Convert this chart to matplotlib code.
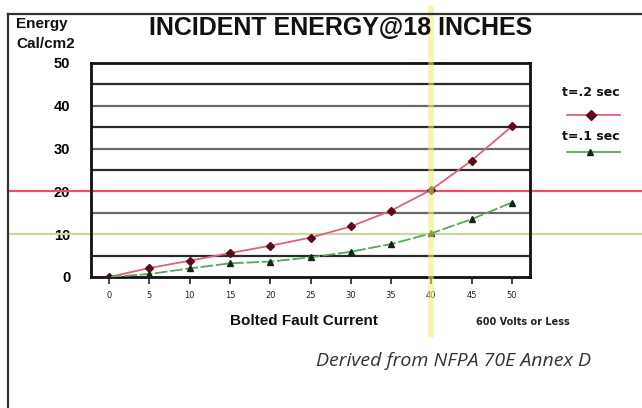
import matplotlib
matplotlib.use("Agg")
import matplotlib.pyplot as plt
from matplotlib.lines import Line2D

# data
current = [0, 5, 10, 15, 20, 25, 30, 35, 40, 45, 50]
energy_t02 = [0, 2.1, 3.8, 5.6, 7.3, 9.2, 11.8, 15.5, 20.4, 27.2, 35.2]
energy_t01 = [0, 0.7, 2.0, 3.2, 3.6, 4.6, 5.9, 7.7, 10.2, 13.5, 17.4]
y_ticks = [0, 10, 20, 30, 40, 50]
grid_levels = [5, 15, 25, 30, 35, 40, 45]
red_level = 20
green_level = 10
marker_x = 40

W, H = 642, 408
fig = plt.figure(figsize=(W / 100, H / 100), dpi=100)
fig.patch.set_facecolor("white")

def fx(px):
    return px / W

def fy(py):
    return 1 - py / H

L, R, T, B = 91, 530, 63, 277
ax = fig.add_axes([fx(L), fy(B), fx(R - L), (B - T) / H])
ax.set_xlim(-2.25, 52.25)
ax.set_ylim(0, 50)

# gridlines
for lv in grid_levels:
    col = "#2a2a2a" if lv in (5, 25, 35, 45) else "#6a6a6a"
    ax.axhline(lv, color=col, lw=1.6, zorder=1)

# full-width reference lines
xmin_ax = (8 - L) / (R - L)
xmax_ax = (W - L) / (R - L)
ax.axhline(red_level, xmin=xmin_ax, xmax=xmax_ax, color="#e8506a", lw=1.6,
           clip_on=False, zorder=2)
ax.axhline(green_level, xmin=xmin_ax, xmax=xmax_ax, color="#c9d6a2", lw=1.6,
           clip_on=False, zorder=2)

# series
ax.plot(current, energy_t02, color="#e0607a", lw=1.3, zorder=3,
        marker="D", markersize=4.5, markerfacecolor="#5a0a18",
        markeredgecolor="#5a0a18")
ax.plot(current, energy_t01, color="#55a855", lw=1.3, zorder=3,
        linestyle=(0, (7, 1.5)),
        marker="^", markersize=5, markerfacecolor="#0d2a10",
        markeredgecolor="#0d2a10")

# vertical yellow marker line
ymin_ax = (B - 335) / (B - T)
ymax_ax = (B - 8) / (B - T)
ax.axvline(marker_x, ymin=ymin_ax, ymax=ymax_ax, color="#f3ee70", lw=4,
           alpha=0.55, clip_on=False, zorder=4)

for s in ax.spines.values():
    s.set_linewidth(2)
    s.set_color("#111111")

ax.set_xticks(current)
ax.set_xticklabels([str(c) for c in current], fontsize=6,
                   fontfamily="DejaVu Sans", color="#222222")
ax.tick_params(axis="x", length=5, width=1.2, pad=5, direction="out",
               colors="#222222")
ax.set_yticks(y_ticks)
ax.set_yticklabels([str(v) for v in y_ticks], fontsize=10.5, fontweight="bold",
                   fontfamily="Liberation Sans")
ax.tick_params(axis="y", length=0, pad=15)

# outer frame
fig.add_artist(Line2D([fx(8), 1.0], [fy(14), fy(14)], color="#333333", lw=1.6))
fig.add_artist(Line2D([fx(8), fx(8)], [fy(14), 0.0], color="#333333", lw=1.6))

# texts
fig.text(fx(341), fy(28), "INCIDENT ENERGY@18 INCHES", ha="center", va="center",
         fontsize=18, fontweight="bold", fontfamily="Liberation Sans",
         color="#111111")
fig.text(fx(16), fy(24), "Energy", ha="left", va="center", fontsize=11,
         fontweight="bold", fontfamily="Liberation Sans", color="#111111")
fig.text(fx(16), fy(44), "Cal/cm2", ha="left", va="center", fontsize=11,
         fontweight="bold", fontfamily="Liberation Sans", color="#111111")
fig.text(fx(304), fy(321), "Bolted Fault Current", ha="center", va="center",
         fontsize=11, fontweight="bold", fontfamily="Liberation Sans",
         color="#111111")
fig.text(fx(523), fy(322), "600 Volts or Less", ha="center", va="center",
         fontsize=7, fontweight="bold", fontfamily="DejaVu Sans",
         color="#222222")
fig.text(fx(454), fy(361), "Derived from NFPA 70E Annex D", ha="center",
         va="center", fontsize=14, style="italic", fontfamily="Open Sans",
         color="#333333")

# legend
fig.text(fx(591), fy(93), "t=.2 sec", ha="center", va="center", fontsize=9,
         fontweight="bold", fontfamily="DejaVu Sans", color="#111111")
fig.add_artist(Line2D([fx(567), fx(620)], [fy(115), fy(115)], color="#e0607a",
                      lw=1.3))
fig.add_artist(Line2D([fx(591)], [fy(115)], marker="D", markersize=5,
                      color="#5a0a18", lw=0))
fig.text(fx(591), fy(137), "t=.1 sec", ha="center", va="center", fontsize=9,
         fontweight="bold", fontfamily="DejaVu Sans", color="#111111")
fig.add_artist(Line2D([fx(567), fx(620)], [fy(152), fy(152)], color="#55a855",
                      lw=1.3))
fig.add_artist(Line2D([fx(590)], [fy(152)], marker="^", markersize=4.5,
                      color="#0d2a10", lw=0))

fig.savefig("out.png", dpi=100)
